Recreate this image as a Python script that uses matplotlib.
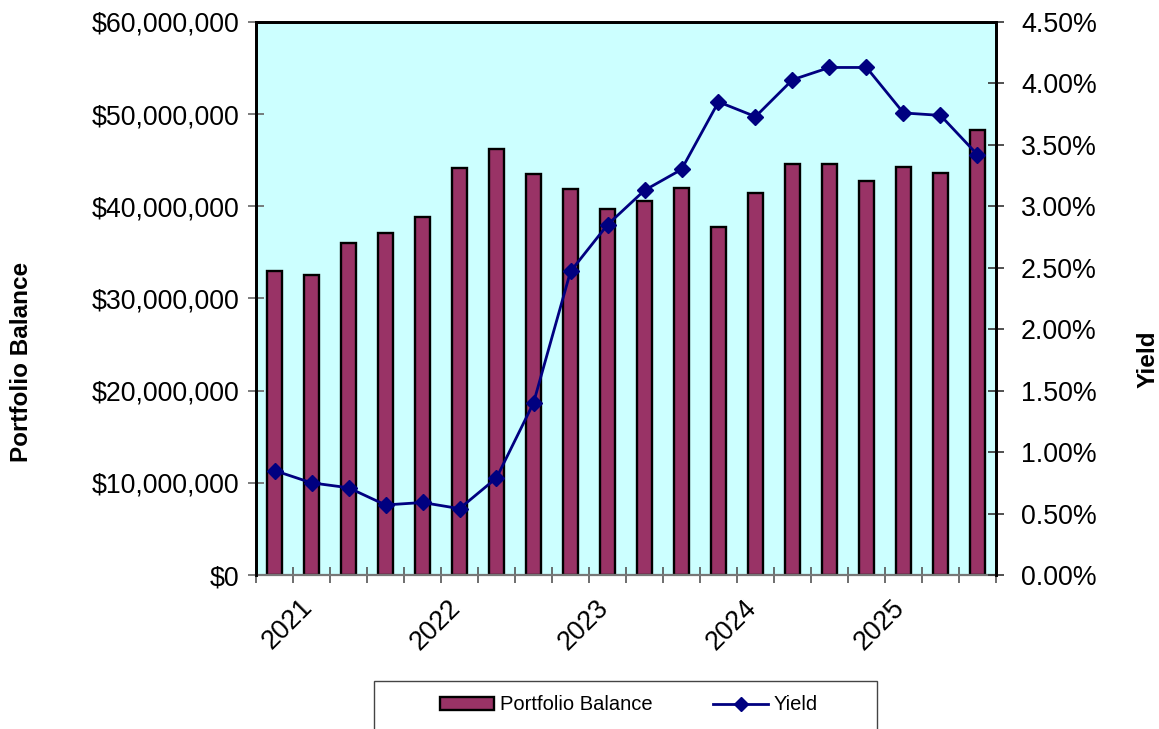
import matplotlib
matplotlib.use("Agg")
import matplotlib.pyplot as plt
from matplotlib.patches import Rectangle, Patch
from matplotlib.lines import Line2D
from matplotlib.ticker import FuncFormatter, FixedLocator
from matplotlib.transforms import ScaledTranslation
import numpy as np

# ---- data ----
balance_millions = [33.0, 32.6, 36.0, 37.1, 38.8, 44.2, 46.2, 43.5, 41.9, 39.7,
                    40.6, 42.0, 37.8, 41.4, 44.6, 44.6, 42.7, 44.3, 43.6, 48.3]
yield_pct = [0.85, 0.75, 0.71, 0.57, 0.59, 0.54, 0.79, 1.40, 2.47, 2.85,
             3.13, 3.30, 3.85, 3.73, 4.03, 4.13, 4.13, 3.76, 3.74, 3.42]
year_labels = ['2021', '2022', '2023', '2024', '2025']
year_label_index = [1, 5, 9, 13, 17]

plt.rcParams['font.family'] = ['Liberation Sans', 'DejaVu Sans']

W, H = 1159, 729
fig = plt.figure(figsize=(W / 100, H / 100), dpi=100)
L, R, T, B = 256, 996, 22, 575
ax = fig.add_axes([L / W, 1 - B / H, (R - L) / W, (B - T) / H])
ax.set_facecolor('#CCFFFF')

n = len(balance_millions)
x = np.arange(n)
balance = np.array(balance_millions) * 1e6
ax.bar(x, balance, width=0.41, color='#993366', edgecolor='black', linewidth=1.7, zorder=2)
ax.set_xlim(-0.5, n - 0.5)
ax.set_ylim(0, 60e6)
ax.yaxis.set_major_locator(FixedLocator(np.arange(0, 60e6 + 1, 10e6)))
ax.yaxis.set_major_formatter(FuncFormatter(lambda v, p: '${:,.0f}'.format(v)))
ax.tick_params(axis='y', labelsize=19.3, direction='inout', length=12, width=1.2,
               color='#666666', pad=6)

# category boundary ticks, year labels on minor ticks
ax.xaxis.set_major_locator(FixedLocator(np.arange(-0.5, n, 1.0)))
ax.xaxis.set_major_formatter(FuncFormatter(lambda v, p: ''))
ax.xaxis.set_minor_locator(FixedLocator(year_label_index))
ax.set_xticklabels(year_labels, minor=True)
ax.tick_params(axis='x', which='major', direction='inout', length=12, width=1.2, color='#555555')
ax.tick_params(axis='x', which='minor', length=0, pad=14, labelsize=19.3)
shift = ScaledTranslation(6 / 100, 0, fig.dpi_scale_trans)
for lbl in ax.get_xticklabels(minor=True):
    lbl.set_rotation(45)
    lbl.set_ha('right')
    lbl.set_va('top')
    lbl.set_transform(lbl.get_transform() + shift)

for s in ['left', 'top', 'right']:
    ax.spines[s].set_linewidth(2.0)
    ax.spines[s].set_color('black')
ax.spines['bottom'].set_linewidth(1.6)
ax.spines['bottom'].set_color('#777777')

ax2 = ax.twinx()
ax2.plot(x, yield_pct, color='#000080', linewidth=2.0, marker='D', markersize=8.5,
         markerfacecolor='#000080', markeredgecolor='#000080', zorder=3)
ax2.set_ylim(0, 4.5)
ax2.yaxis.set_major_locator(FixedLocator(np.arange(0, 4.51, 0.5)))
ax2.yaxis.set_major_formatter(FuncFormatter(lambda v, p: '{:.2f}%'.format(v)))
ax2.tick_params(axis='y', labelsize=19.3, direction='inout', length=12, width=1.2,
                color='#333333', pad=12)
for s in ['left', 'top', 'right']:
    ax2.spines[s].set_linewidth(2.0)
    ax2.spines[s].set_color('black')
ax2.spines['bottom'].set_visible(False)

fig.text(22 / W, 1 - 362 / H, 'Portfolio Balance', rotation=90, fontsize=17.5,
         fontweight='bold', ha='center', va='center')
fig.text(1148 / W, 1 - 359 / H, 'Yield', rotation=90, fontsize=17.5,
         fontweight='bold', ha='center', va='center')

# legend
frame = Rectangle((374 / W, -0.02), (877 - 374) / W, (729 - 681) / H + 0.02,
                  transform=fig.transFigure, facecolor='white', edgecolor='#444444',
                  linewidth=1.0, clip_on=False)
fig.patches.append(frame)
handles = [Patch(facecolor='#993366', edgecolor='black', linewidth=1.7),
           Line2D([0], [0], color='#000080', linewidth=2.0, marker='D', markersize=7,
                  markerfacecolor='#000080')]
fig.legend(handles, ['Portfolio Balance', 'Yield'], loc='center',
           bbox_to_anchor=(629 / W, 1 - 705 / H), ncol=2, frameon=False,
           fontsize=14.5, handlelength=2.7, handletextpad=0.3, columnspacing=3.0,
           handleheight=0.6)

fig.savefig('out.png', dpi=100)
